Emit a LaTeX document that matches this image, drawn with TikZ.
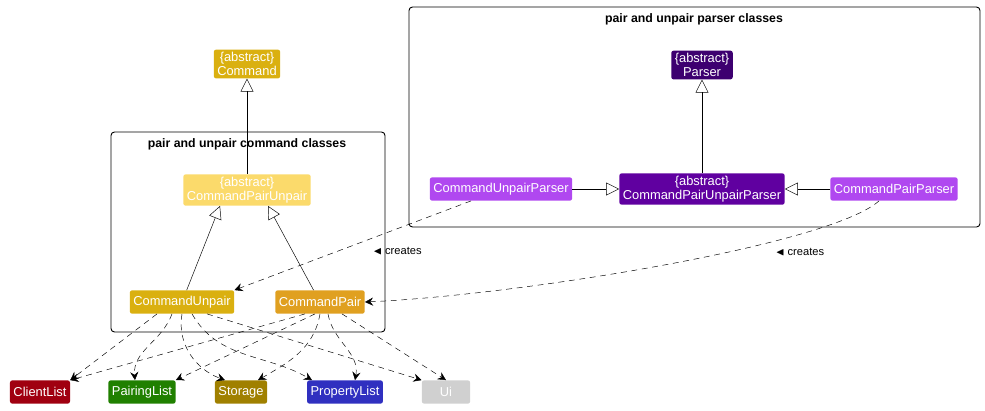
\documentclass[tikz,border=0pt]{standalone}
\usepackage{fontspec}
\setmainfont{Liberation Sans}
\usepackage{amssymb}
\usetikzlibrary{arrows.meta,positioning}

\definecolor{cmdgold}{HTML}{DAB010}
\definecolor{cmdlight}{HTML}{FBDA6B}
\definecolor{cmdorange}{HTML}{E0A020}
\definecolor{parsdark}{HTML}{3D0070}
\definecolor{parsmid}{HTML}{6000A0}
\definecolor{parslight}{HTML}{B048F0}
\definecolor{clientred}{HTML}{A00010}
\definecolor{pairgreen}{HTML}{208000}
\definecolor{storeolive}{HTML}{A08000}
\definecolor{propblue}{HTML}{3030C0}
\definecolor{uigray}{HTML}{D0D0D0}

\tikzset{
  cls/.style={text=white, rounded corners=2pt, inner xsep=3pt, inner ysep=2pt, align=center,
    font=\fontsize{11}{12.5}\selectfont, minimum height=0.7cm},
  pkg/.style={draw=black, thick, rounded corners=3pt},
  pkgtitle/.style={font=\fontsize{10.5}{12}\selectfont\bfseries},
  extends/.style={-{Triangle[open,length=11pt,width=11pt]}},
  uses/.style={dashed, dash pattern=on 5pt off 4pt, -{Stealth[length=7pt,width=7pt,inset=2.5pt]}},
  lbl/.style={font=\fontsize{9.5}{10}\selectfont}
}

\begin{document}
\begin{tikzpicture}[x=0.03cm, y=-0.03cm]
   \useasboundingbox (0,0) rectangle (985,410);
   % packages
   \draw[pkg] (111,132) rectangle (385,332);
   \node[pkgtitle] at (247,144) {pair and unpair command classes};
   \draw[pkg] (409,7) rectangle (980,227);
   \node[pkgtitle] at (694,19) {pair and unpair parser classes};
   % command classes
   \node[cls, fill=cmdgold] (command) at (247,64) {\{abstract\}\\Command};
   \node[cls, fill=cmdlight] (pairunpair) at (247,190) {\{abstract\}\\CommandPairUnpair};
   \node[cls, fill=cmdgold] (unpair) at (182,302) {CommandUnpair};
   \node[cls, fill=cmdorange] (pair) at (320,302) {CommandPair};
   % parser classes
   \node[cls, fill=parsdark] (parser) at (702,65) {\{abstract\}\\Parser};
   \node[cls, fill=parsmid] (pairunpairparser) at (702,189) {\{abstract\}\\CommandPairUnpairParser};
   \node[cls, fill=parslight] (unpairparser) at (501,189) {CommandUnpairParser};
   \node[cls, fill=parslight] (pairparser) at (894,189) {CommandPairParser};
   % other components
   \node[cls, fill=clientred] (clientlist) at (40,392) {ClientList};
   \node[cls, fill=pairgreen] (pairinglist) at (142,392) {PairingList};
   \node[cls, fill=storeolive] (storage) at (241,392) {Storage};
   \node[cls, fill=propblue] (propertylist) at (345,392) {PropertyList};
   \node[cls, fill=uigray, minimum width=1.45cm] (ui) at (446,392) {Ui};
   % inheritance
   \draw[extends] (pairunpair) -- (command);
   \draw[extends] (unpair) -- (pairunpair.south -| 220,0);
   \draw[extends] (pair) -- (pairunpair.south -| 268,0);
   \draw[extends] (pairunpairparser) -- (parser);
   \draw[extends] (unpairparser) -- (pairunpairparser);
   \draw[extends] (pairparser) -- (pairunpairparser);
   % creates
   \path (unpairparser.south) ++(-30,0) coordinate (upsrc);
   \path (pairparser.south) ++(-15,0) coordinate (ppsrc);
   \draw[uses] (upsrc) -- (unpair.north east) node[lbl, pos=0.45, below right=2pt and 4pt] {$\blacktriangleleft$ creates};
   \draw[uses] (ppsrc) .. controls (830,245) and (520,295) .. (pair.east);
   \node[lbl] (createslbl) at (800,252) {$\blacktriangleleft$ creates};
   % dependencies of CommandUnpair
   \path (unpair.south) ++(-25,0) coordinate (u1);
   \path (unpair.south) ++(-10,0) coordinate (u2);
   \path (unpair.south) ++(10,0) coordinate (u3);
   \path (unpair.south) ++(25,0) coordinate (u4);
   \draw[uses] (u1) -- (clientlist.north east);
   \draw[uses] (u2) to[out=-110, in=95] (pairinglist.north west -| 135,0);
   \draw[uses] (unpair.south) to[out=-100, in=160] (storage.north -| 225,0);
   \draw[uses] (u3) to[out=-60, in=150] (propertylist.north west -| 312,0);
   \draw[uses] (u4) -- (ui.north west);
   % dependencies of CommandPair
   \path (pair.south) ++(-15,0) coordinate (p1);
   \path (pair.south) ++(-5,0) coordinate (p2);
   \path (pair.south) ++(8,0) coordinate (p3);
   \path (pair.south) ++(22,0) coordinate (p4);
   \draw[uses] (p1) -- (clientlist.north east);
   \draw[uses] (p2) -- (pairinglist.north east);
   \draw[uses] (pair.south) to[out=-100, in=30] (storage.north -| 258,0);
   \draw[uses] (p3) to[out=-80, in=80] (propertylist.north -| 355,0);
   \draw[uses] (p4) -- (ui.north);
\end{tikzpicture}
\end{document}
